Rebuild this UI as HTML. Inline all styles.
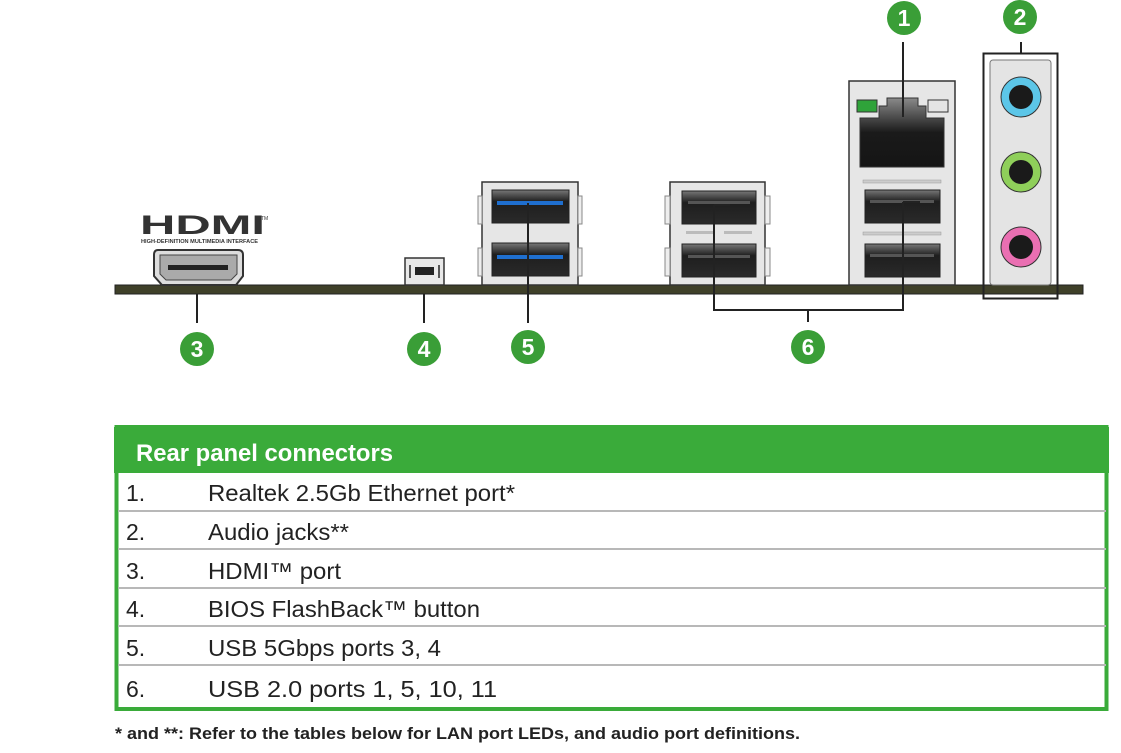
<!DOCTYPE html>
<html><head><meta charset="utf-8"><style>
html,body{margin:0;padding:0;background:#fff;}
svg{display:block;font-family:"Liberation Sans",Arial,sans-serif;}
</style></head><body>
<svg width="1121" height="753" viewBox="0 0 1121 753" xmlns="http://www.w3.org/2000/svg">
<defs>
<linearGradient id="port" x1="0" y1="0" x2="0" y2="1">
<stop offset="0" stop-color="#777"/><stop offset="0.35" stop-color="#1e1e1e"/><stop offset="1" stop-color="#2a2a2a"/>
</linearGradient>
<linearGradient id="rj" x1="0" y1="0" x2="0" y2="1">
<stop offset="0" stop-color="#8a8a8a"/><stop offset="0.5" stop-color="#1a1a1a"/><stop offset="1" stop-color="#151515"/>
</linearGradient>
</defs>
<!-- board -->
<rect x="115" y="285" width="968" height="9" fill="#3f4029" stroke="#222" stroke-width="1"/>

<!-- HDMI logo -->
<text x="140" y="234" font-size="27" font-weight="bold" fill="#333" textLength="125" lengthAdjust="spacingAndGlyphs">HDMI</text>
<text x="261" y="220" font-size="5" fill="#333">TM</text>
<text x="141" y="243" font-size="5" font-weight="bold" fill="#333" textLength="117" lengthAdjust="spacingAndGlyphs">HIGH-DEFINITION MULTIMEDIA INTERFACE</text>
<!-- HDMI port -->
<path d="M158,250 H238 Q243,250 243,255 V276 L236,285 H162 L154,276 V255 Q154,250 158,250 Z" fill="#ddd" stroke="#333" stroke-width="2"/>
<path d="M160,255 H237 V274 L231,280 H166 L160,274 Z" fill="#aaa" stroke="#444"/>
<rect x="168" y="265" width="60" height="5" fill="#222"/>

<!-- BIOS button -->
<rect x="405" y="258" width="39" height="27" fill="#e8e8e8" stroke="#333" stroke-width="1.5"/>
<rect x="409" y="265" width="2" height="13" fill="#555"/>
<rect x="438" y="265" width="2" height="13" fill="#555"/>
<rect x="415" y="267" width="19" height="8" fill="#222"/>

<!-- USB3 block -->
<rect x="482" y="182" width="96" height="103" fill="#e6e6e6" stroke="#333" stroke-width="1.5"/>
<rect x="478" y="196" width="4" height="28" fill="#eee" stroke="#888"/>
<rect x="578" y="196" width="4" height="28" fill="#eee" stroke="#888"/>
<rect x="478" y="248" width="4" height="28" fill="#eee" stroke="#888"/>
<rect x="578" y="248" width="4" height="28" fill="#eee" stroke="#888"/>
<rect x="492" y="190" width="77" height="33" fill="url(#port)" stroke="#222"/>
<rect x="497" y="201" width="66" height="4" fill="#1f6fcf"/>
<rect x="492" y="243" width="77" height="33" fill="url(#port)" stroke="#222"/>
<rect x="497" y="255" width="66" height="4" fill="#1f6fcf"/>

<!-- USB2 left block -->
<rect x="670" y="182" width="95" height="103" fill="#e6e6e6" stroke="#333" stroke-width="1.5"/>
<rect x="665" y="196" width="5" height="28" fill="#eee" stroke="#888"/>
<rect x="765" y="196" width="5" height="28" fill="#eee" stroke="#888"/>
<rect x="665" y="248" width="5" height="28" fill="#eee" stroke="#888"/>
<rect x="765" y="248" width="5" height="28" fill="#eee" stroke="#888"/>
<rect x="682" y="191" width="74" height="33" fill="url(#port)" stroke="#222"/>
<rect x="688" y="201" width="62" height="3" fill="#555"/>
<rect x="686" y="231" width="28" height="3" fill="#bbb"/>
<rect x="724" y="231" width="28" height="3" fill="#bbb"/>
<rect x="682" y="244" width="74" height="33" fill="url(#port)" stroke="#222"/>
<rect x="688" y="255" width="62" height="3" fill="#555"/>

<!-- Ethernet block -->
<rect x="849" y="81" width="106" height="204" fill="#e6e6e6" stroke="#333" stroke-width="1.5"/>
<rect x="857" y="100" width="20" height="12" fill="#2fa33a" stroke="#333"/>
<rect x="928" y="100" width="20" height="12" fill="#e4e4e4" stroke="#333"/>
<path d="M860,118 H879 V106 H887 V98 H918 V106 H926 V118 H944 V167 H860 Z" fill="url(#rj)" stroke="#333"/>
<rect x="863" y="180" width="78" height="3" fill="#ccc" stroke="#999" stroke-width="0.5"/>
<rect x="865" y="190" width="75" height="33" fill="url(#port)" stroke="#222"/>
<rect x="870" y="200" width="64" height="3" fill="#555"/>
<rect x="863" y="232" width="78" height="3" fill="#ccc" stroke="#999" stroke-width="0.5"/>
<rect x="865" y="244" width="75" height="33" fill="url(#port)" stroke="#222"/>
<rect x="870" y="254" width="64" height="3" fill="#555"/>

<!-- Audio -->
<rect x="990" y="60" width="61" height="225" rx="3" fill="#e4e4e4" stroke="#777" stroke-width="1"/>
<rect x="983.5" y="53.5" width="74" height="245" fill="none" stroke="#222" stroke-width="2"/>
<circle cx="1021" cy="97" r="20" fill="#5cc6e8" stroke="#333" stroke-width="1"/>
<circle cx="1021" cy="97" r="12" fill="#1a1a1a"/>
<circle cx="1021" cy="172" r="20" fill="#8fcf5a" stroke="#333" stroke-width="1"/>
<circle cx="1021" cy="172" r="12" fill="#1a1a1a"/>
<circle cx="1021" cy="247" r="20" fill="#ea6fb2" stroke="#333" stroke-width="1"/>
<circle cx="1021" cy="247" r="12" fill="#1a1a1a"/>

<!-- leader lines -->
<g stroke="#222" stroke-width="2" fill="none">
<line x1="903" y1="42" x2="903" y2="117"/>
<line x1="1021" y1="42" x2="1021" y2="53"/>
<line x1="197" y1="294" x2="197" y2="323"/>
<line x1="424" y1="294" x2="424" y2="323"/>
<line x1="528" y1="203" x2="528" y2="323"/>
<polyline points="714,205 714,310 903,310 903,202"/>
<line x1="808" y1="310" x2="808" y2="322"/>
<line x1="903" y1="202" x2="920" y2="202"/>
<line x1="714" y1="205" x2="730" y2="205"/>
</g>

<!-- callouts -->
<g font-size="23" font-weight="bold" fill="#fff" text-anchor="middle">
<circle cx="904" cy="18" r="17" fill="#3a9e37"/><text x="904" y="26">1</text>
<circle cx="1020" cy="17" r="17" fill="#3a9e37"/><text x="1020" y="25">2</text>
<circle cx="197" cy="349" r="17" fill="#3a9e37"/><text x="197" y="357">3</text>
<circle cx="424" cy="349" r="17" fill="#3a9e37"/><text x="424" y="357">4</text>
<circle cx="528" cy="347" r="17" fill="#3a9e37"/><text x="528" y="355">5</text>
<circle cx="808" cy="347" r="17" fill="#3a9e37"/><text x="808" y="355">6</text>
</g>

<!-- table -->
<rect x="114" y="427" width="995" height="46" fill="#3aab3a"/>
<rect x="116.5" y="427" width="990" height="282" fill="none" stroke="#3aab3a" stroke-width="4"/>
<text x="136" y="461" font-size="24" font-weight="bold" fill="#fff" textLength="257" lengthAdjust="spacingAndGlyphs">Rear panel connectors</text>
<g stroke="#b8b8b8" stroke-width="2">
<line x1="118" y1="511" x2="1106" y2="511"/>
<line x1="118" y1="549" x2="1106" y2="549"/>
<line x1="118" y1="588" x2="1106" y2="588"/>
<line x1="118" y1="626" x2="1106" y2="626"/>
<line x1="118" y1="665" x2="1106" y2="665"/>
</g>
<g font-size="23" fill="#222">
<text x="126" y="501">1.</text><text x="208" y="501" textLength="307" lengthAdjust="spacingAndGlyphs">Realtek 2.5Gb Ethernet port*</text>
<text x="126" y="540">2.</text><text x="208" y="540" textLength="141" lengthAdjust="spacingAndGlyphs">Audio jacks**</text>
<text x="126" y="579">3.</text><text x="208" y="579" textLength="133" lengthAdjust="spacingAndGlyphs">HDMI™ port</text>
<text x="126" y="617">4.</text><text x="208" y="617" textLength="272" lengthAdjust="spacingAndGlyphs">BIOS FlashBack™ button</text>
<text x="126" y="656">5.</text><text x="208" y="656" textLength="233" lengthAdjust="spacingAndGlyphs">USB 5Gbps ports 3, 4</text>
<text x="126" y="697">6.</text><text x="208" y="697" textLength="289" lengthAdjust="spacingAndGlyphs">USB 2.0 ports 1, 5, 10, 11</text>
</g>
<text x="115" y="739" font-size="17" font-weight="bold" fill="#222" textLength="685" lengthAdjust="spacingAndGlyphs">* and **: Refer to the tables below for LAN port LEDs, and audio port definitions.</text>
</svg>
</body></html>
